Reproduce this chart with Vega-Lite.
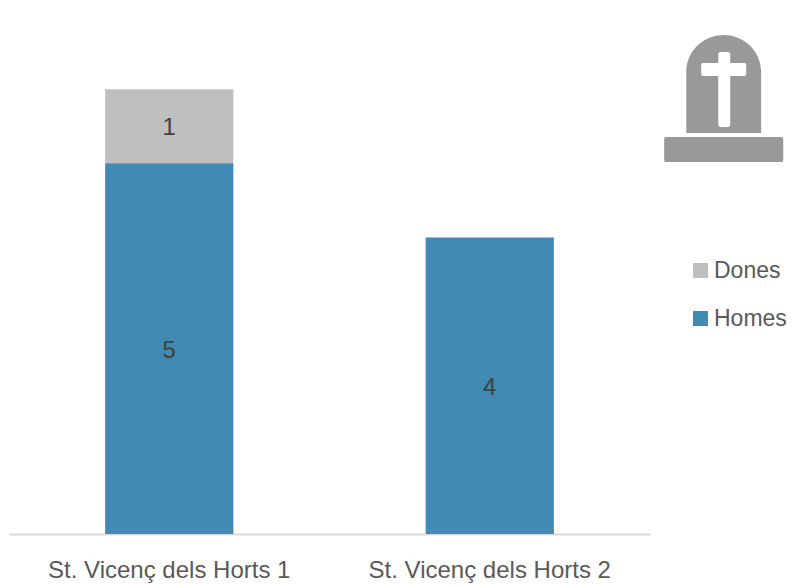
{
  "$schema": "https://vega.github.io/schema/vega-lite/v6.json",
  "width": 641,
  "height": 519,
  "autosize": "none",
  "padding": {"left": 9, "top": 15, "right": 145, "bottom": 51},
  "background": "white",
  "config": {"view": {"stroke": null}, "font": "Liberation Sans"},
  "layer": [
    {
      "data": {"name": "d", "values": [
        {"site": "St. Vicenç dels Horts 1", "grup": "Dones", "n": 1},
        {"site": "St. Vicenç dels Horts 1", "grup": "Homes", "n": 5},
        {"site": "St. Vicenç dels Horts 2", "grup": "Homes", "n": 4}
      ]},
      "layer": [
        {
          "mark": {"type": "bar"},
          "encoding": {
            "x": {"field": "site", "type": "nominal", "scale": {"paddingInner": 0.6, "paddingOuter": 0.3},
              "axis": {"title": null, "labelAngle": 0, "labelFontSize": 24, "labelColor": "#595959", "labelFont": "Liberation Sans", "ticks": false, "domainColor": "#d9d9d9", "domainWidth": 2, "labelPadding": 24, "labelLimit": 400}},
            "y": {"field": "n", "type": "quantitative", "scale": {"domain": [0, 7]}, "axis": null},
            "color": {"field": "grup", "type": "nominal", "scale": {"domain": ["Dones", "Homes"], "range": ["#bfbfbf", "#418ab3"]},
              "legend": {"title": null, "orient": "none", "legendX": 680, "legendY": 244, "symbolType": "square", "symbolSize": 225, "symbolStrokeWidth": 0, "symbolOpacity": 1, "labelFontSize": 23, "labelColor": "#595959", "labelFont": "Liberation Sans", "rowPadding": 24, "labelOffset": 2}}
          }
        },
        {
          "mark": {"type": "text", "fontSize": 24, "color": "#404040", "font": "Liberation Sans", "dy": 2},
          "encoding": {
            "x": {"field": "site", "type": "nominal"},
            "y": {"field": "n", "type": "quantitative", "stack": "zero", "bandPosition": 0.5},
            "detail": {"field": "grup"},
            "text": {"field": "n", "type": "quantitative"}
          }
        }
      ]
    },
    {
      "data": {"values": [{"icona": "làpida", "pos": 1.115, "alt": 5.874}]},
      "mark": {"type": "point", "filled": true, "opacity": 1, "clip": false, "color": "#999999", "size": 67600,
        "shape": "M-0.288 0.265 L-0.288 -0.204 A0.288 0.284 0 0 1 0.288 -0.204 L0.288 0.265 Z M-0.042 -0.34 L-0.042 -0.273 L-0.16 -0.273 Q-0.173 -0.273 -0.173 -0.26 L-0.173 -0.186 Q-0.173 -0.173 -0.16 -0.173 L-0.042 -0.173 L-0.042 0.2 Q-0.042 0.219 -0.02 0.219 L0.03 0.219 Q0.05 0.219 0.05 0.2 L0.05 -0.173 L0.16 -0.173 Q0.173 -0.173 0.173 -0.186 L0.173 -0.26 Q0.173 -0.273 0.16 -0.273 L0.05 -0.273 L0.05 -0.34 Q0.05 -0.358 0.03 -0.358 L-0.02 -0.358 Q-0.042 -0.358 -0.042 -0.34 Z M-0.445 0.296 L0.445 0.296 Q0.458 0.296 0.458 0.309 L0.458 0.475 Q0.458 0.488 0.445 0.488 L-0.445 0.488 Q-0.458 0.488 -0.458 0.475 L-0.458 0.309 Q-0.458 0.296 -0.445 0.296 Z"},
      "encoding": {
        "x": {"field": "pos", "type": "quantitative", "scale": {"domain": [0, 1]}, "axis": null},
        "y": {"field": "alt", "type": "quantitative"}
      }
    }
  ],
  "resolve": {"scale": {"x": "independent"}, "axis": {"x": "independent"}}
}
